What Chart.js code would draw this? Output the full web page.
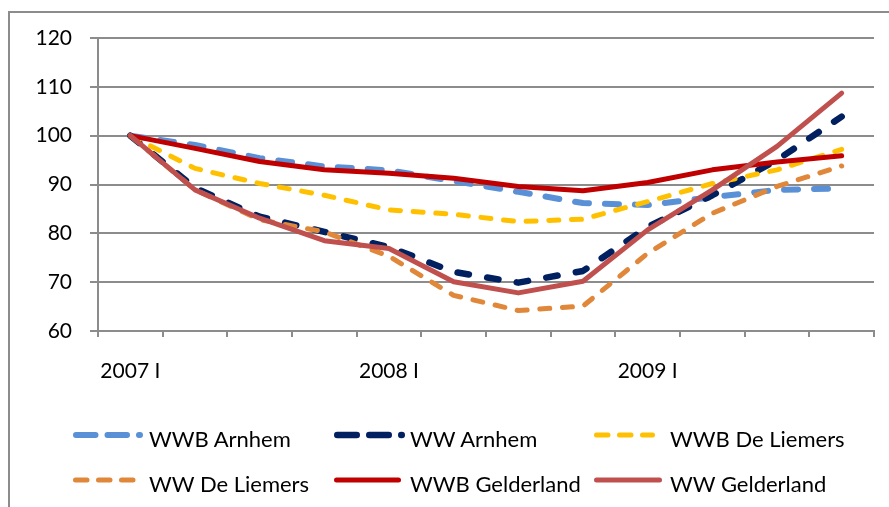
<!DOCTYPE html>
<html>
<head>
<meta charset="utf-8">
<script src="https://cdn.jsdelivr.net/npm/chart.js@4.4.1/dist/chart.umd.min.js"></script>
<style>
html,body{margin:0;padding:0;background:#fff;}
#wrap{position:relative;width:889px;height:507px;overflow:hidden;background:#fff;}
#frame{position:absolute;left:8px;top:11px;width:1000px;height:1000px;border-top:2px solid #8c8c8c;border-left:2px solid #8c8c8c;box-sizing:border-box;}
#c{position:absolute;left:0;top:0;}
#lg{position:absolute;left:0;top:0;}
.lt{position:absolute;font-family:Lato,sans-serif;font-size:22px;line-height:22px;color:#000;white-space:pre;}
</style>
</head>
<body>
<div id="wrap">
  <div id="frame"></div>
  <canvas id="c" width="889" height="507"></canvas>
  <svg id="lg" width="889" height="507" xmlns="http://www.w3.org/2000/svg"></svg>
</div>
<script>
// ---- data ----
const categories = ["2007 I","2007 II","2007 III","2007 IV",
                    "2008 I","2008 II","2008 III","2008 IV",
                    "2009 I","2009 II","2009 III","2009 IV"];
const seriesNames = ["WWB Arnhem","WW Arnhem","WWB De Liemers","WW De Liemers","WWB Gelderland","WW Gelderland"];
const wwbArnhem     = [100, 98.1, 95.4, 93.7, 92.9, 90.7, 88.5, 86.2, 85.8, 87.4, 88.9, 89.2];
const wwArnhem      = [100, 89.3, 83.4, 80.3, 77.2, 72.1, 69.9, 72.3, 81.3, 87.8, 95.0, 103.9];
const wwbDeLiemers  = [100, 93.3, 90.2, 87.8, 84.8, 83.9, 82.4, 82.9, 86.5, 90.2, 93.0, 97.2];
const wwDeLiemers   = [100, 88.9, 82.8, 80.3, 75.3, 67.3, 64.2, 65.1, 75.9, 84.1, 89.6, 93.8];
const wwbGelderland = [100, 97.4, 94.7, 93.0, 92.3, 91.3, 89.6, 88.7, 90.4, 93.0, 94.6, 95.9];
const wwGelderland  = [100, 88.9, 83.1, 78.5, 76.9, 70.1, 67.8, 70.2, 80.7, 88.9, 97.8, 108.7];
const yTickMin = 60, yTickMax = 120, yTickStep = 10;

// ---- styles ----
const seriesValues = [wwbArnhem, wwArnhem, wwbDeLiemers, wwDeLiemers, wwbGelderland, wwGelderland];
const seriesColors = ["#5A90D6", "#002060", "#FFC000", "#E0873A", "#C00000", "#C0504D"];
const seriesWidths = [6, 6.5, 5, 5, 5, 5];
const seriesDash   = [[14,16], [11.5,18.5], [10,12.7], [10,12.7], [], []];
const legendDash   = [[19.5,12], [19.5,12.5], [11.5,11.5], [11.5,11.5], [], []];
const legendLen    = [70, 71, 61, 64, 67, 68];

const gridColor = "#8c8c8c";
const fontFamily = "Lato, sans-serif";

const datasets = seriesNames.map((name, i) => ({
  label: name,
  data: seriesValues[i],
  borderColor: seriesColors[i],
  backgroundColor: seriesColors[i],
  borderWidth: seriesWidths[i],
  borderDash: seriesDash[i],
  borderCapStyle: "round",
  borderJoinStyle: "round",
  pointRadius: 0,
  tension: 0,
  fill: false,
  order: seriesNames.length - 1 - i
}));

function draw() {
  const chart = new Chart(document.getElementById("c").getContext("2d"), {
    type: "line",
    data: { labels: categories, datasets: datasets },
    options: {
      responsive: false,
      animation: false,
      devicePixelRatio: 1,
      layout: { padding: { top: 38, right: 15, left: 0, bottom: 0 } },
      plugins: { legend: { display: false }, tooltip: { enabled: false } },
      scales: {
        x: {
          type: "category",
          offset: true,
          grid: { offset: true, drawOnChartArea: false, drawTicks: true, tickLength: 6, color: gridColor, lineWidth: 2 },
          border: { color: gridColor, width: 2 },
          ticks: {
            autoSkip: false, maxRotation: 0, minRotation: 0, padding: 22, color: "#000",
            font: { family: fontFamily, size: 21 },
            callback: (v, i) => (i % 4 === 0 ? categories[i] : "")
          },
          afterFit: (s) => { s.height = 176; }
        },
        y: {
          min: yTickMin, max: yTickMax,
          ticks: { stepSize: yTickStep, padding: 18, color: "#000", font: { family: fontFamily, size: 21 } },
          grid: { color: gridColor, lineWidth: 2, tickLength: 8 },
          border: { color: gridColor, width: 2 },
          afterFit: (s) => { s.width = 98; }
        }
      }
    }
  });

  // ---- legend (HTML/SVG) built from the datasets ----
  const svg = document.getElementById("lg");
  const wrap = document.getElementById("wrap");
  const cols = [73, 334, 594];
  const lineY = [435, 480];
  const baseY = [447, 492];
  const ns = "http://www.w3.org/2000/svg";
  chart.data.datasets.forEach((ds, i) => {
    const col = i % 3, row = Math.floor(i / 3);
    const w = ds.borderWidth;
    const x0 = cols[col];
    const ln = document.createElementNS(ns, "line");
    ln.setAttribute("x1", x0 + w / 2);
    ln.setAttribute("x2", x0 + legendLen[i] - w / 2);
    ln.setAttribute("y1", lineY[row]);
    ln.setAttribute("y2", lineY[row]);
    ln.setAttribute("stroke", ds.borderColor);
    ln.setAttribute("stroke-width", w);
    ln.setAttribute("stroke-linecap", "round");
    if (legendDash[i].length) ln.setAttribute("stroke-dasharray", legendDash[i].join(" "));
    svg.appendChild(ln);
    const t = document.createElement("span");
    t.className = "lt";
    t.textContent = ds.label;
    t.style.left = (x0 + 76) + "px";
    t.style.top = (baseY[row] - 19.5) + "px";
    wrap.appendChild(t);
  });
}
draw();
</script>
</body>
</html>
